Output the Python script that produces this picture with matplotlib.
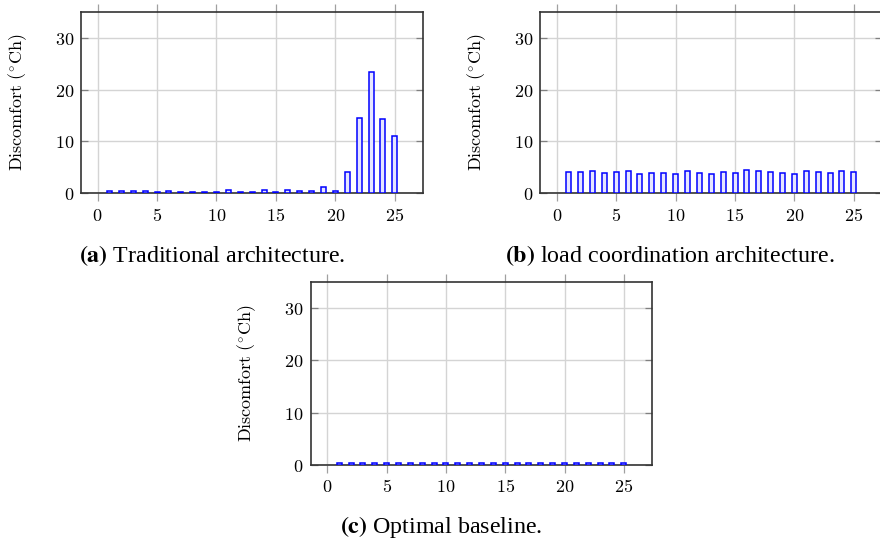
import numpy as np
import matplotlib
matplotlib.use("Agg")
import matplotlib.pyplot as plt
from matplotlib.ticker import FuncFormatter

# hours 1..25 and discomfort values
hours = list(range(1, 26))
traditional = [0.4, 0.5, 0.5, 0.4, 0.3, 0.5, 0.3, 0.3, 0.2, 0.2,
               0.6, 0.3, 0.3, 0.6, 0.3, 0.6, 0.5, 0.4, 1.3, 0.4,
               4.1, 14.6, 23.3, 14.3, 11.1]
coordination = [4.05, 4.2, 4.3, 4.0, 4.05, 4.3, 3.7, 4.0, 3.9, 3.7,
                4.25, 3.9, 3.7, 4.1, 3.9, 4.4, 4.3, 4.05, 3.9, 3.7,
                4.25, 4.1, 4.0, 4.35, 4.1]
optimal = [0.3] * 25

x_ticks = [0, 5, 10, 15, 20, 25]
y_ticks = [0, 10, 20, 30]
ylabel = r'$\mathrm{Discomfort}\ (^{\circ}\mathrm{Ch})$'
captions = [r'$\mathbf{(a)}$ Traditional architecture.',
            r'$\mathbf{(b)}$ load coordination architecture.',
            r'$\mathbf{(c)}$ Optimal baseline.']

plt.rcParams['mathtext.fontset'] = 'cm'

W, H = 880, 545
fig = plt.figure(figsize=(W / 100, H / 100), dpi=100)

def px_axes(left, top, right, bottom):
    return fig.add_axes([left / W, 1 - bottom / H, (right - left) / W, (bottom - top) / H])

def panel(ax, values):
    ax.bar(hours, values, width=0.42, color='#e6e6ff', edgecolor='#0000ff',
           linewidth=1.1, zorder=3)
    ax.set_xlim(-1.4, 27.4)
    ax.set_ylim(0, 35)
    ax.set_xticks(x_ticks)
    ax.set_yticks(y_ticks)
    fmt = FuncFormatter(lambda v, p: r'$%d$' % v)
    ax.xaxis.set_major_formatter(fmt)
    ax.yaxis.set_major_formatter(fmt)
    ax.grid(True, color='#d4d4d4', linewidth=1.0)
    ax.set_axisbelow(True)
    ax.tick_params(axis='x', direction='out', length=5.8, width=0.9,
                   color='#a0a0a0', top=True, pad=4, labelsize=13)
    ax.tick_params(axis='y', direction='in', length=5.0, width=0.9,
                   color='#808080', right=True, pad=5, labelsize=13)
    for s in ax.spines.values():
        s.set_color('#333333')
        s.set_linewidth(1.2)
    ax.set_ylabel(ylabel, fontsize=13)
    ax.yaxis.set_label_coords(-0.153, 0.5)

ax_a = px_axes(81, 11.7, 423.3, 193.3)
panel(ax_a, traditional)
ax_b = px_axes(540.1, 11.7, 882.4, 193.3)
panel(ax_b, coordination)
ax_c = px_axes(310.7, 282.3, 652.3, 464.7)
panel(ax_c, optimal)

cap_pos = [(211.7, 256), (670, 256), (441.7, 527)]
for (cx, cy), txt in zip(cap_pos, captions):
    fig.text(cx / W, 1 - cy / H, txt, ha='center', va='center',
             fontsize=17.3, family='Liberation Serif', math_fontfamily='stix')

fig.savefig('out.png', dpi=100)
